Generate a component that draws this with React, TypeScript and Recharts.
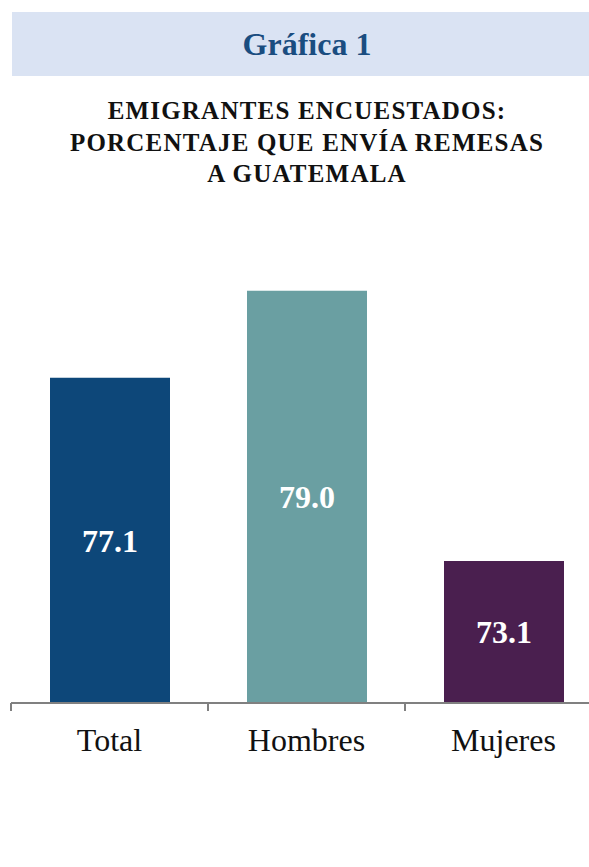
import React from 'react';
import { BarChart, Bar, XAxis, YAxis, Cell, LabelList } from 'recharts';

const categories = ['Total', 'Hombres', 'Mujeres'];
const percentages = [77.1, 79.0, 73.1];
const barColors = ['#0d4779', '#6a9fa2', '#4a1f4f'];
const subtitleLines = ['EMIGRANTES ENCUESTADOS:', 'PORCENTAJE QUE ENVÍA REMESAS', 'A GUATEMALA'];

const data = categories.map((name, i) => ({ name, value: percentages[i] }));

const SERIF = '"Liberation Serif", "Times New Roman", serif';

// category tick: label plus tick marks on the band edges
const CategoryTick = (props: any) => {
  const { x, y, payload, index, visibleTicksCount } = props;
  const half = payload.offset ?? 0;
  const isLast = index === visibleTicksCount - 1;
  return (
    <g>
      <line x1={x - half} x2={x - half} y1={y - 8} y2={y} stroke="#808080" strokeWidth={2} />
      {isLast && <line x1={x + half} x2={x + half} y1={y - 8} y2={y} stroke="#808080" strokeWidth={2} />}
      <text x={x} y={y + 40} textAnchor="middle" fontFamily={SERIF} fontSize={32} fill="#111">
        {payload.value}
      </text>
    </g>
  );
};

const App: React.FC = () => {
  return (
    <div
      style={{
        position: 'absolute',
        left: 0,
        top: 0,
        width: 589,
        height: 867,
        overflow: 'hidden',
        background: '#fff',
      }}
    >
      {/* Header */}
      <div
        style={{
          position: 'absolute',
          left: 12,
          top: 12,
          width: 590,
          height: 64,
          background: '#dae3f3',
          color: '#1a4d80',
          fontFamily: SERIF,
          fontWeight: 'bold',
          fontSize: 32,
          lineHeight: '64px',
          textAlign: 'center',
        }}
      >
        Gráfica 1
      </div>

      {/* Subtitle */}
      <div
        style={{
          position: 'absolute',
          left: 12,
          top: 95,
          width: 590,
          fontFamily: SERIF,
          fontWeight: 'bold',
          fontSize: 25,
          lineHeight: '31.5px',
          letterSpacing: 1.2,
          textAlign: 'center',
          color: '#111',
        }}
      >
        {subtitleLines.map((line) => (
          <div key={line}>{line}</div>
        ))}
      </div>

      {/* Chart */}
      <div style={{ position: 'absolute', left: 0, top: 200 }}>
        <BarChart
          width={602}
          height={560}
          data={data}
          margin={{ top: 45, right: 0, left: 11, bottom: 7 }}
          barSize={120}
        >
          <YAxis hide domain={[70, 80]} allowDataOverflow />
          <XAxis
            dataKey="name"
            height={50}
            axisLine={{ stroke: '#808080', strokeWidth: 2 }}
            tickLine={false}
            tickSize={8}
            tickMargin={0}
            interval={0}
            tick={<CategoryTick />}
          />
          <Bar dataKey="value" isAnimationActive={false}>
            {data.map((d, i) => (
              <Cell key={d.name} fill={barColors[i]} />
            ))}
            <LabelList
              dataKey="value"
              position="center"
              fill="#ffffff"
              fontFamily={SERIF}
              fontWeight="bold"
              fontSize={32}
              formatter={(v: any) => Number(v).toFixed(1)}
            />
          </Bar>
        </BarChart>
      </div>
    </div>
  );
};

export default App;
